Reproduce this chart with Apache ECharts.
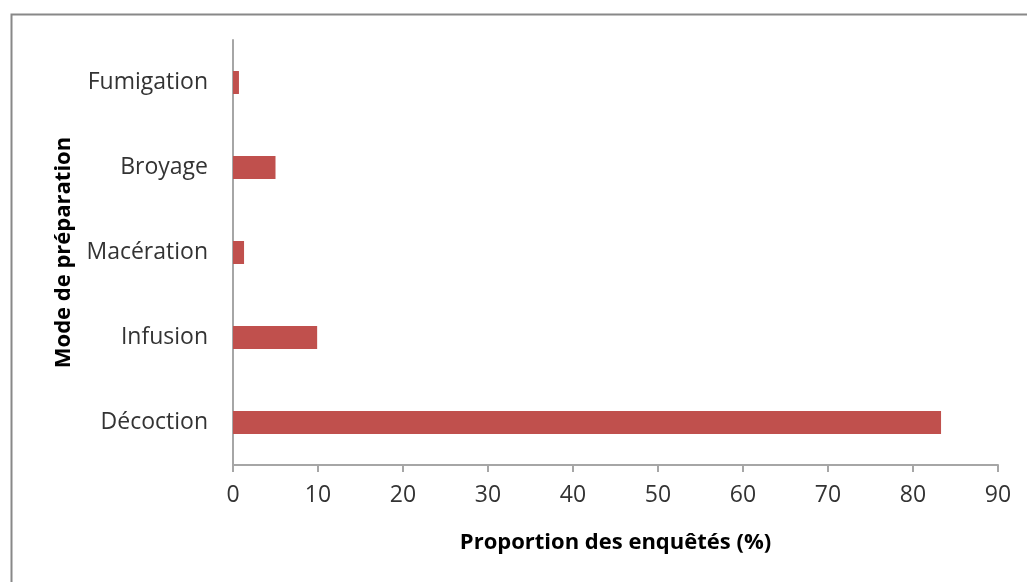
<!DOCTYPE html>
<html>
<head>
<meta charset="utf-8">
<script src="https://cdn.jsdelivr.net/npm/echarts@6/dist/echarts.min.js"></script>
<style>html,body{margin:0;padding:0;background:#fff;}#c{width:1027px;height:582px;}</style>
</head>
<body>
<div id="c"></div>
<script>
const categories = ['Décoction', 'Infusion', 'Macération', 'Broyage', 'Fumigation'];
const values = [83.3, 9.9, 1.3, 5.0, 0.7];
const xTicks = [0, 10, 20, 30, 40, 50, 60, 70, 80, 90];

const font = "'Open Sans', 'Noto Sans', sans-serif";
const chart = echarts.init(document.getElementById('c'), null, {renderer: 'canvas'});
chart.setOption({
  animation: false,
  backgroundColor: '#fff',
  graphic: [{
    type: 'rect', left: 9, top: 12,
    shape: {x: 0, y: 0, width: 1100, height: 700},
    style: {fill: 'none', stroke: '#888', lineWidth: 2}
  }],
  grid: {left: 233, right: 29, top: 40, bottom: 117, containLabel: false},
  xAxis: {
    type: 'value', min: xTicks[0], max: xTicks[xTicks.length - 1], interval: 10,
    name: 'Proportion des enquêtés (%)', nameLocation: 'middle', nameGap: 67,
    nameTextStyle: {fontFamily: font, fontSize: 22, fontWeight: 'bold', color: '#000'},
    axisLine: {show: true, lineStyle: {color: '#A6A6A6', width: 2}},
    axisTick: {show: true, length: 7, lineStyle: {color: '#A6A6A6', width: 2}},
    axisLabel: {fontFamily: font, fontSize: 23, color: '#333', margin: 19},
    splitLine: {show: false}
  },
  yAxis: {
    type: 'category', data: categories,
    name: 'Mode de préparation', nameLocation: 'middle', nameGap: 158, nameRotate: 90,
    nameTextStyle: {fontFamily: font, fontSize: 22, fontWeight: 'bold', color: '#000'},
    axisLine: {show: true, lineStyle: {color: '#A6A6A6', width: 2}},
    axisTick: {show: false},
    axisLabel: {fontFamily: font, fontSize: 23, color: '#333', margin: 25, padding: [5, 0, 0, 0]}
  },
  series: [{
    type: 'bar', data: values, barWidth: '27%',
    itemStyle: {color: '#C0504D'}
  }]
});
</script>
</body>
</html>
